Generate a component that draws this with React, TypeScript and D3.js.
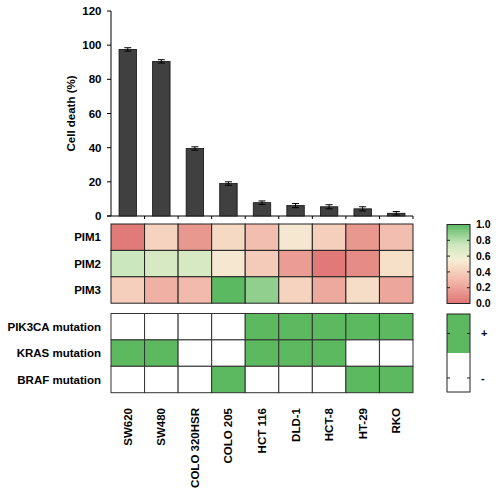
import React from "react";
import * as d3 from "d3";

const cellLines = ["SW620", "SW480", "COLO 320HSR", "COLO 205", "HCT 116", "DLD-1", "HCT-8", "HT-29", "RKO"];
const cellDeath = [97.5, 90.5, 39.5, 19.0, 7.8, 6.1, 5.4, 4.2, 1.6];
const cellDeathErr = [1.0, 1.0, 1.0, 1.0, 1.0, 1.2, 1.2, 1.2, 1.0];
const yTicks = [0, 20, 40, 60, 80, 100, 120];

const pimRows = ["PIM1", "PIM2", "PIM3"];
const pim1 = [0.03, 0.42, 0.15, 0.45, 0.32, 0.52, 0.4, 0.15, 0.32];
const pim2 = [0.75, 0.7, 0.7, 0.52, 0.38, 0.17, 0.02, 0.1, 0.48];
const pim3 = [0.4, 0.25, 0.3, 1.0, 0.88, 0.42, 0.22, 0.47, 0.21];
const pimValues = [pim1, pim2, pim3];

const mutRows = ["PIK3CA mutation", "KRAS mutation", "BRAF mutation"];
const pik3ca = [0, 0, 0, 0, 1, 1, 1, 1, 1];
const kras = [1, 1, 0, 0, 1, 1, 1, 0, 0];
const braf = [0, 0, 0, 1, 0, 0, 0, 1, 1];
const mutValues = [pik3ca, kras, braf];

const legendTicks = [0, 0.2, 0.4, 0.6, 0.8, 1.0];
const mutLegend = ["+", "-"];

const colorStops = [0, 0.25, 0.45, 0.55, 0.75, 1];
const colorRange = ["#df7473", "#f0b0a4", "#f6d9c3", "#f6efd5", "#cbe7bd", "#5bb962"];
const MUT_GREEN = "#5cb960";

const FONT = "'Liberation Sans', Arial, Helvetica, sans-serif";

export default function App() {
  const W = 500, H = 494;
  const x = d3.scaleBand<string>().domain(cellLines).range([111, 413]).paddingInner(0).paddingOuter(0);
  const y = d3.scaleLinear().domain([0, 120]).range([216, 11]);
  const color = d3.scaleLinear<string>().domain(colorStops).range(colorRange).interpolate(d3.interpolateRgb);
  const bw = x.bandwidth();
  const barW = bw * 0.52;

  const heatTop = 224;
  const rowH = 26.4;
  const mutTop = 313.5;

  const legX = 447, legW = 23;
  const legY = d3.scaleLinear().domain([0, 1]).range([303.5, 224.5]);
  const mutLegTop = 314, mutLegBot = 392;

  const fs = 11.5;

  return (
    <svg width={W} height={H} style={{ position: "absolute", left: 0, top: 0, background: "#fff" }} fontFamily={FONT}>
      <defs>
        <linearGradient id="cbar" x1="0" y1="1" x2="0" y2="0">
          {d3.range(0, 1.0001, 0.05).map((t) => (
            <stop key={t} offset={`${t * 100}%`} stopColor={color(t)} />
          ))}
        </linearGradient>
      </defs>

      {/* Y axis */}
      <line x1={111} x2={111} y1={y(120)} y2={y(0)} stroke="#000" strokeWidth={1} />
      {yTicks.map((t) => (
        <g key={t}>
          <line x1={107} x2={111} y1={y(t)} y2={y(t)} stroke="#000" />
          <text x={101.5} y={y(t)} dy="0.35em" textAnchor="end" fontSize={fs} fontWeight="bold">{t}</text>
        </g>
      ))}
      <text transform={`translate(71,${(y(120) + y(0)) / 2}) rotate(-90)`} textAnchor="middle" dy="0.35em" fontSize={fs} fontWeight="bold">
        Cell death (%)
      </text>

      {/* X axis */}
      <line x1={107} x2={413} y1={y(0)} y2={y(0)} stroke="#000" />
      {cellLines.map((c) => (
        <line key={c} x1={(x(c) as number) + bw} x2={(x(c) as number) + bw} y1={y(0)} y2={y(0) + 3} stroke="#000" />
      ))}

      {/* Bars */}
      {cellLines.map((c, i) => {
        const cx = (x(c) as number) + bw / 2;
        const v = cellDeath[i];
        const e = cellDeathErr[i];
        return (
          <g key={c}>
            <rect x={cx - barW / 2} y={y(v)} width={barW} height={y(0) - y(v)} fill="#404040" stroke="#111" strokeWidth={0.8} />
            <line x1={cx} x2={cx} y1={y(v + e)} y2={y(Math.max(0, v - e))} stroke="#000" />
            <line x1={cx - 3.5} x2={cx + 3.5} y1={y(v + e)} y2={y(v + e)} stroke="#000" />
            <line x1={cx - 3.5} x2={cx + 3.5} y1={y(Math.max(0, v - e))} y2={y(Math.max(0, v - e))} stroke="#000" />
          </g>
        );
      })}

      {/* PIM heatmap */}
      {pimRows.map((r, ri) => (
        <g key={r}>
          <text x={101} y={heatTop + rowH * ri + rowH / 2} dy="0.35em" textAnchor="end" fontSize={fs} fontWeight="bold">{r}</text>
          {cellLines.map((c, ci) => (
            <rect key={c} x={x(c)} y={heatTop + rowH * ri} width={bw} height={rowH} fill={color(pimValues[ri][ci])} stroke="#222" strokeWidth={1} />
          ))}
        </g>
      ))}

      {/* Mutation grid */}
      {mutRows.map((r, ri) => (
        <g key={r}>
          <text x={101} y={mutTop + rowH * ri + rowH / 2} dy="0.35em" textAnchor="end" fontSize={fs} fontWeight="bold">{r}</text>
          {cellLines.map((c, ci) => (
            <rect key={c} x={x(c)} y={mutTop + rowH * ri} width={bw} height={rowH} fill={mutValues[ri][ci] ? MUT_GREEN : "#fff"} stroke="#333" strokeWidth={1} />
          ))}
        </g>
      ))}

      {/* Category labels */}
      {cellLines.map((c) => (
        <text key={c} transform={`translate(${(x(c) as number) + bw / 2},408) rotate(-90)`} textAnchor="end" dy="0.35em" fontSize={fs} fontWeight="bold">
          {c}
        </text>
      ))}

      {/* Colorbar legend */}
      <rect x={legX} y={legY(1)} width={legW} height={legY(0) - legY(1)} fill="url(#cbar)" stroke="#222" strokeWidth={1} />
      {legendTicks.map((t) => (
        <g key={t}>
          {t > 0 && t < 1 && (
            <>
              <line x1={legX} x2={legX + 3} y1={legY(t)} y2={legY(t)} stroke="#222" />
              <line x1={legX + legW - 3} x2={legX + legW} y1={legY(t)} y2={legY(t)} stroke="#222" />
            </>
          )}
          <text x={476} y={legY(t)} dy="0.35em" fontSize={10.5} fontWeight="bold">{t.toFixed(1)}</text>
        </g>
      ))}

      {/* Mutation legend */}
      <rect x={legX} y={mutLegTop} width={legW} height={(mutLegBot - mutLegTop) / 2} fill={MUT_GREEN} />
      <rect x={legX} y={mutLegTop} width={legW} height={mutLegBot - mutLegTop} fill="none" stroke="#222" strokeWidth={1} />
      {mutLegend.map((m, i) => {
        const yy = mutLegTop + (mutLegBot - mutLegTop) * (i === 0 ? 0.25 : 0.82);
        return (
          <g key={m}>
            <line x1={legX} x2={legX + 3} y1={yy} y2={yy} stroke="#222" />
            <line x1={legX + legW - 3} x2={legX + legW} y1={yy} y2={yy} stroke="#222" />
            <text x={481} y={yy} dy="0.35em" fontSize={11} fontWeight="bold">{m}</text>
          </g>
        );
      })}
    </svg>
  );
}
